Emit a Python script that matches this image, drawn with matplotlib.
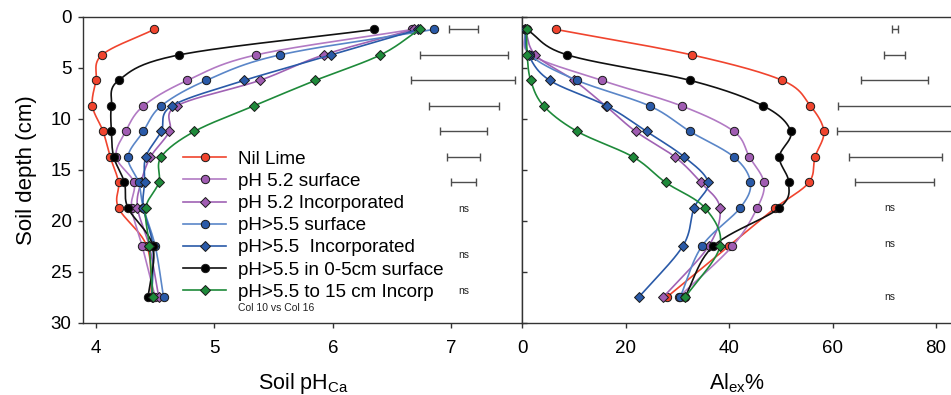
import numpy as np
import matplotlib
matplotlib.use("Agg")
import matplotlib.pyplot as plt
from matplotlib.lines import Line2D

plt.rcParams['font.family'] = ['Liberation Sans', 'DejaVu Sans']
plt.rcParams['mathtext.fontset'] = 'custom'
plt.rcParams['mathtext.rm'] = 'Liberation Sans'
plt.rcParams['mathtext.it'] = 'Liberation Sans:italic'

# ---------------- data ----------------
depth = [1.25, 3.75, 6.25, 8.75, 11.25, 13.75, 16.25, 18.75, 22.5, 27.5]

labels = ["Nil Lime", "pH 5.2 surface", "pH 5.2 Incorporated", "pH>5.5 surface",
          "pH>5.5  Incorporated", "pH>5.5 in 0-5cm surface", "pH>5.5 to 15 cm Incorp"]

ph_nil      = [4.49, 4.05, 4.00, 3.97, 4.06, 4.12, 4.19, 4.19, 4.43, 4.47]
ph_52_surf  = [6.67, 5.35, 4.77, 4.40, 4.25, 4.17, 4.32, 4.30, 4.39, 4.50]
ph_52_inc   = [6.68, 5.92, 5.38, 4.68, 4.62, 4.46, 4.38, 4.35, 4.45, 4.53]
ph_55_surf  = [6.85, 5.55, 4.93, 4.55, 4.40, 4.27, 4.36, 4.40, 4.50, 4.57]
ph_55_inc   = [6.72, 5.98, 5.25, 4.64, 4.55, 4.42, 4.41, 4.40, 4.48, 4.47]
ph_55_05    = [6.35, 4.70, 4.19, 4.13, 4.13, 4.15, 4.24, 4.27, 4.48, 4.44]
ph_55_15    = [6.73, 6.40, 5.85, 5.33, 4.83, 4.55, 4.53, 4.42, 4.45, 4.48]

al_nil      = [6.5, 32.8, 50.3, 55.7, 58.3, 56.6, 55.4, 48.9, 39.9, 27.9]
al_52_surf  = [0.5, 1.7, 15.4, 30.8, 40.9, 43.9, 46.7, 45.4, 40.6, 30.2]
al_52_inc   = [0.5, 2.5, 10.0, 16.1, 21.9, 29.5, 34.5, 38.2, 36.0, 27.2]
al_55_surf  = [0.5, 1.5, 10.6, 24.6, 32.4, 40.9, 44.1, 42.1, 34.7, 30.5]
al_55_inc   = [0.5, 1.2, 5.3, 16.3, 24.0, 31.3, 35.9, 33.2, 31.0, 22.5]
al_55_05    = [0.8, 8.7, 32.5, 46.6, 51.9, 49.7, 51.5, 49.7, 36.9, 31.4]
al_55_15    = [0.8, 0.9, 1.6, 4.1, 10.6, 21.4, 27.7, 35.3, 38.2, 31.5]

# error bars (LSD bars): left and right ends
eb_depth = [1.25, 3.75, 6.25, 8.75, 11.25, 13.75, 16.25]
ph_eb_lo = [6.98, 6.73, 6.66, 6.81, 6.90, 6.96, 7.00]
ph_eb_hi = [7.22, 7.48, 7.54, 7.40, 7.30, 7.24, 7.21]
al_eb_lo = [71.5, 70.0, 65.4, 61.1, 60.9, 63.2, 64.3]
al_eb_hi = [72.7, 74.0, 78.5, 85.0, 85.0, 81.2, 79.7]

ph_ns_depth = [18.85, 23.4, 26.9]
al_ns_depth = [18.75, 22.3, 27.5]

ph_series = [ph_nil, ph_52_surf, ph_52_inc, ph_55_surf, ph_55_inc, ph_55_05, ph_55_15]
al_series = [al_nil, al_52_surf, al_52_inc, al_55_surf, al_55_inc, al_55_05, al_55_15]

line_colors = ['#f0442e', '#b27ac4', '#a062b4', '#5a86c8', '#2a5aa8', '#111111', '#1e8a3a']
face_colors = ['#f0442e', '#a05cb2', '#a05cb2', '#2a5aa8', '#2a5aa8', '#000000', '#1e8a3a']
markers = ['o', 'o', 'D', 'o', 'D', 'o', 'D']
marker_size = {'o': 6.0, 'D': 5.6}


def catmull_rom(x, y, n=24):
    p = np.column_stack([x, y]).astype(float)
    p = np.vstack([2 * p[0] - p[1], p, 2 * p[-1] - p[-2]])
    out = []
    t = np.linspace(0, 1, n, endpoint=False)
    for i in range(1, len(p) - 2):
        p0, p1, p2, p3 = p[i - 1], p[i], p[i + 1], p[i + 2]
        tt = t[:, None]
        seg = 0.5 * ((2 * p1) + (-p0 + p2) * tt + (2 * p0 - 5 * p1 + 4 * p2 - p3) * tt ** 2
                     + (-p0 + 3 * p1 - 3 * p2 + p3) * tt ** 3)
        out.append(seg)
    out.append(p[-2][None, :])
    out = np.vstack(out)
    return out[:, 0], out[:, 1]


fig = plt.figure(figsize=(9.51, 3.95), dpi=100)
ax1 = fig.add_axes([0.0876, 0.183, 0.4618, 0.7747])
ax2 = fig.add_axes([0.5494, 0.183, 0.4506, 0.7747])

for ax, series in ((ax1, ph_series), (ax2, al_series)):
    for i, vals in enumerate(series):
        sx, sy = catmull_rom(vals, depth)
        ax.plot(sx, sy, color=line_colors[i], lw=1.2, zorder=2 + 2 * i)
        ax.plot(vals, depth, linestyle='none', marker=markers[i], ms=marker_size[markers[i]],
                mfc=face_colors[i], mec='#1a1a1a', mew=0.7, zorder=3 + 2 * i)

# error bars
ph_c = [(a + b) / 2 for a, b in zip(ph_eb_lo, ph_eb_hi)]
ph_e = [(b - a) / 2 for a, b in zip(ph_eb_lo, ph_eb_hi)]
al_c = [(a + b) / 2 for a, b in zip(al_eb_lo, al_eb_hi)]
al_e = [(b - a) / 2 for a, b in zip(al_eb_lo, al_eb_hi)]
ax1.errorbar(ph_c, eb_depth, xerr=ph_e, fmt='none', ecolor='#4d4d4d', elinewidth=1.0,
             capsize=2.6, capthick=1.0, zorder=1)
ax2.errorbar(al_c, eb_depth, xerr=al_e, fmt='none', ecolor='#4d4d4d', elinewidth=1.0,
             capsize=2.6, capthick=1.0, zorder=1)

for d in ph_ns_depth:
    ax1.text(7.10, d, 'ns', fontsize=7.5, ha='center', va='center', color='#222222')
for d in al_ns_depth:
    ax2.text(71.1, d, 'ns', fontsize=7.5, ha='center', va='center', color='#222222')

ax1.text(5.2, 28.6, 'Col 10 vs Col 16', fontsize=7.5, ha='left', va='center', color='#222222')

# axes formatting
ax1.set_xlim(3.893, 7.599)
ax2.set_xlim(0, 82.9)
for ax in (ax1, ax2):
    ax.set_ylim(30, 0)
    for s in ax.spines.values():
        s.set_linewidth(1.0)
        s.set_color('#333333')
ax2.spines['right'].set_visible(False)

ax1.set_xticks([4, 5, 6, 7])
ax1.set_yticks([0, 5, 10, 15, 20, 25, 30])
ax1.tick_params(axis='both', direction='out', length=3.5, width=1.0, labelsize=13.5, colors='#333333', labelcolor='black')
ax1.tick_params(axis='x', pad=9)
ax1.tick_params(axis='y', pad=5)

ax2.set_xticks([0, 20, 40, 60, 80])
ax2.set_yticks([0, 5, 10, 15, 20, 25, 30])
ax2.tick_params(axis='x', direction='out', length=3.5, width=1.0, labelsize=13.5, pad=9, colors='#333333', labelcolor='black')
ax2.tick_params(axis='y', direction='in', length=3.5, width=1.0, labelleft=False, colors='#333333')

ax1.set_ylabel('Soil depth (cm)', fontsize=16, labelpad=10)
ax1.set_xlabel(r'Soil pH$_{\rm Ca}$', fontsize=15.5, labelpad=10)
ax2.set_xlabel(r'Al$_{\rm ex}$%', fontsize=15.5, labelpad=10)

handles = []
for i in range(7):
    handles.append(Line2D([0], [0], color=line_colors[i], lw=1.2, marker=markers[i],
                          ms=marker_size[markers[i]], mfc=face_colors[i], mec='#1a1a1a', mew=0.7))
leg = ax1.legend(handles, labels, loc='upper left', bbox_to_anchor=(0.227, 0.562),
                 frameon=False, fontsize=13.6, handlelength=2.3, handletextpad=0.6,
                 labelspacing=0.26, borderpad=0, borderaxespad=0)
leg.set_zorder(30)

fig.savefig('out.png', dpi=100)
